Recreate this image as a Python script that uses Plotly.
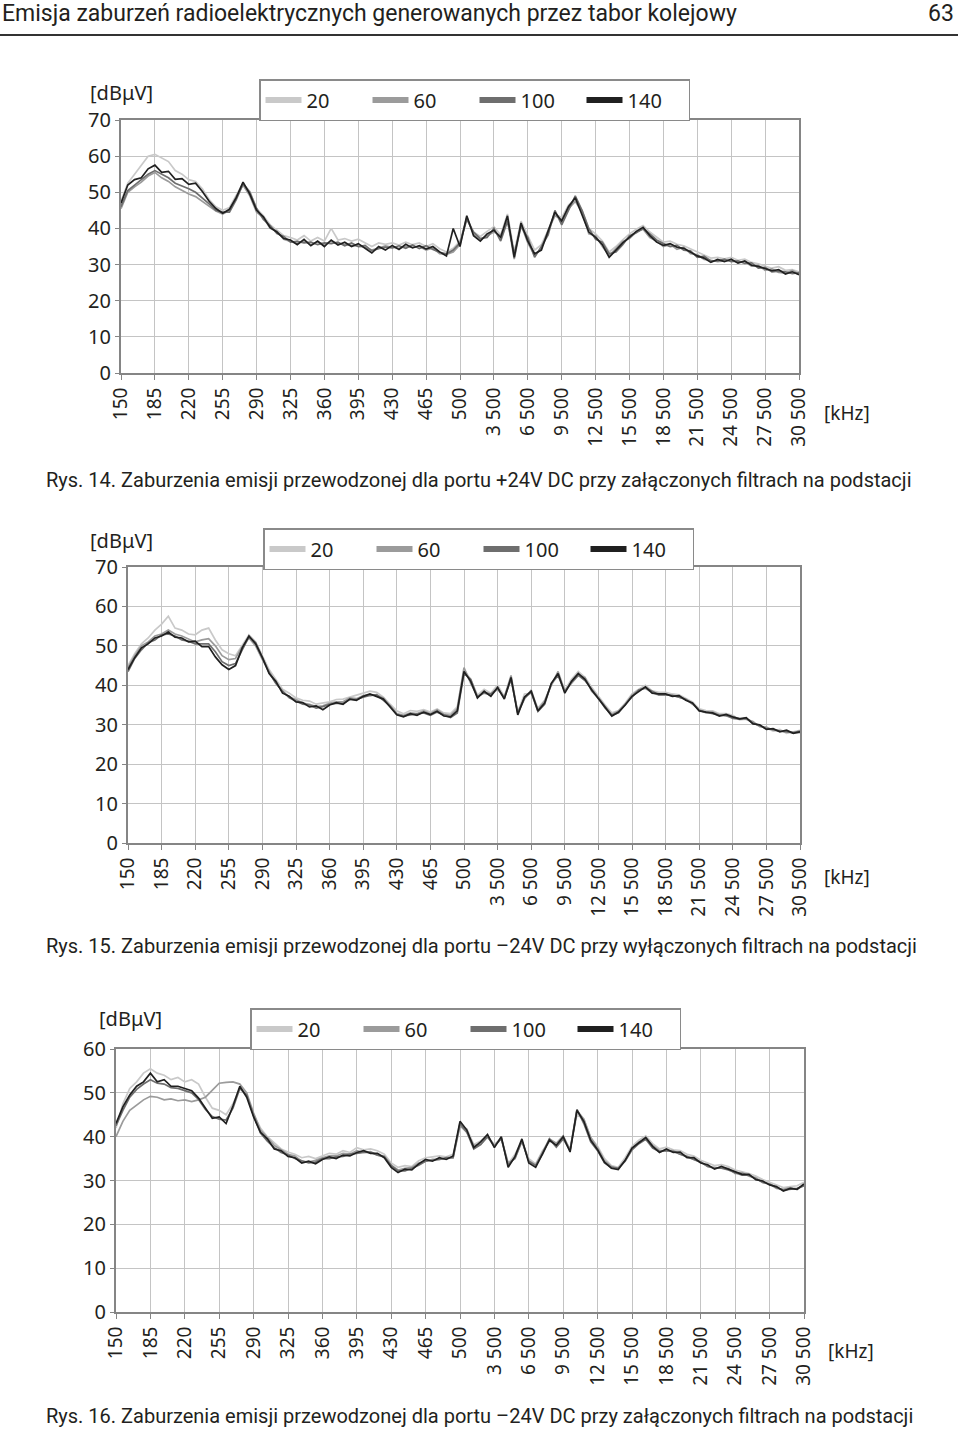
import plotly.graph_objects as go

# ---------------- data ----------------
x_labels = ["150", "185", "220", "255", "290", "325", "360", "395", "430", "465", "500",
            "3 500", "6 500", "9 500", "12 500", "15 500", "18 500", "21 500", "24 500",
            "27 500", "30 500"]
series_names = ["20", "60", "100", "140"]
# sample positions along the category axis (5 samples per label interval)
x_pos = [i / 5 for i in range(101)]

# Rys. 14
r14_s20 = [47.5, 52.5, 55, 57.5, 60, 60.5, 59.5, 58.5, 56, 55,
           53.5, 53, 51, 48, 46, 45, 45.8, 49, 52.5, 50.2,
           45.5, 43.5, 41, 39.5, 38, 37.5, 36.8, 38, 36.5, 37.5,
           36.5, 40, 36.8, 37.2, 36.5, 37, 36, 35, 36, 35.6,
           36, 35.4, 36.2, 35.5, 36, 35, 35.8, 34.4, 33.5, 34.5,
           36.5, 43, 39, 37.8, 39.2, 40.5, 38.2, 44, 33.5, 42,
           38, 34, 35.5, 39.5, 44, 43, 46.5, 48, 45, 40,
           38.5, 36.5, 33.5, 35, 36.8, 38.5, 39.8, 40.8, 39, 37.5,
           36.2, 36.5, 35.6, 35.2, 34.4, 33.5, 32.6, 31.8, 32, 31.6,
           32, 31.2, 31.5, 30.6, 30.2, 29.6, 29, 29.4, 28.4, 28.6,
           28]
r14_s60 = [45.5, 50, 51.5, 52.8, 54.5, 55.5, 54, 53, 51.5, 50.5,
           49.5, 48.8, 47.5, 46, 44.8, 44, 45, 48.8, 52, 49,
           44.5, 43, 40, 39.2, 37, 36.4, 35.8, 36.6, 35.5, 36.2,
           35.6, 36.4, 35.8, 35.6, 35.4, 35.2, 34.8, 34, 34.5, 35.2,
           34.8, 34.5, 35, 34.8, 35, 34, 34.6, 33, 32.8, 33.5,
           35.5, 43, 38.5, 37, 38, 39, 38, 42.5, 31.5, 41,
           36, 32.5, 34.5, 39.5, 43.5, 42.5, 45.5, 47.5, 44.5, 38.5,
           38, 35, 32.5, 34.4, 36.4, 37.2, 39, 39.8, 37.5, 36.5,
           35, 35.6, 34.2, 34.8, 33, 32.8, 31.4, 31.2, 30.8, 31,
           31.2, 30.6, 30.8, 29.6, 29.8, 28.4, 28.8, 27.8, 27.6, 28.4,
           27.5]
r14_s100 = [46, 50.5, 52, 53.5, 55, 56, 55, 54, 52.5, 51.8,
            51, 50, 48.5, 46.8, 45, 44.5, 44.5, 48, 52.3, 50,
            45.5, 42.5, 40.8, 38.6, 37.8, 36.2, 36.4, 36, 36.2, 35.5,
            36, 35.8, 36.2, 35.2, 36, 35, 35.3, 33.8, 34.4, 34.8,
            34.6, 35.2, 34.5, 35.4, 34.4, 35.2, 34.2, 33.4, 33, 34,
            36, 42.5, 39, 37.2, 37.5, 40, 36.5, 42, 33, 40.5,
            37.5, 32, 35, 38.2, 45, 41, 45, 49, 45, 40,
            37, 36.2, 33, 33.5, 35.5, 38, 38.8, 40, 38.5, 36.8,
            35.8, 35, 35.3, 34, 33.8, 32, 32.3, 31, 31, 31.5,
            30.8, 31, 30.3, 30.5, 29, 29.2, 28, 28.2, 28, 27.5,
            27.8]
r14_s140 = [47, 52, 53.5, 54, 56.5, 57.5, 55.5, 55.8, 53.6, 53.8,
            52.2, 52.5, 50.2, 47.5, 45.5, 44.2, 45.3, 48.5, 52.8, 49.5,
            45, 43.2, 40.2, 39, 37.2, 36.8, 35.5, 37, 35.2, 36.5,
            35, 36.8, 35.4, 36.2, 35, 35.8, 34.5, 33.2, 35, 34,
            35.3, 34.2, 35.6, 34.6, 35.2, 34.3, 35, 33.5, 32.4, 40,
            35, 43.5, 38, 36.5, 38.5, 39.5, 37.5, 43.5, 32, 41.5,
            36.5, 33, 34, 39, 44.5, 42, 46, 48.5, 44, 39,
            37.5, 35.5, 32, 34, 36, 37.5, 39.2, 40.3, 38, 36.2,
            35.3, 35.8, 34.8, 34.5, 33.5, 32.4, 31.8, 30.6, 31.4, 30.8,
            31.5, 30.4, 31, 29.8, 29.5, 28.8, 28.3, 28.6, 27.4, 28,
            27.2]

# Rys. 15
r15_s20 = [45, 48, 50.5, 52, 54, 55.5, 57.5, 54.5, 54, 53,
           52.8, 54, 54.5, 51.5, 49, 48, 47.5, 50, 52.8, 51,
           47.5, 44, 41.5, 39, 38, 36.8, 36.2, 36, 35.2, 35.5,
           35.8, 36.4, 36.5, 37, 37.5, 38, 38.5, 38.2, 37, 35.2,
           33.5, 32.8, 33.6, 33.4, 33.8, 33.2, 34, 33, 32.8, 34.5,
           44, 41.5, 37.5, 39, 38, 40, 37.2, 41.5, 33.2, 37.8,
           38, 34.2, 36.2, 40.2, 42.5, 38.8, 41.5, 43.5, 42, 39.5,
           37.2, 35, 33, 33.6, 35.5, 37.8, 39, 40, 38.6, 38.2,
           38.2, 37.8, 37.6, 36.8, 35.8, 34, 33.6, 33.5, 32.8, 32.8,
           32.4, 31.2, 31.4, 30.5, 29.6, 29.2, 28.4, 28.8, 27.8, 28.2,
           28.6]
r15_s60 = [44.5, 47.5, 50, 51, 52.5, 53, 54, 53, 52.5, 51.8,
           51, 51.5, 51.8, 50, 47.5, 46.5, 46.8, 49.8, 52, 50,
           46.5, 43.5, 40.5, 38.5, 37, 36.4, 35.5, 35.2, 34.6, 34.8,
           35.4, 35.8, 35.8, 36.8, 36.6, 37.4, 37.6, 37.5, 36.8, 34.8,
           32.8, 32.4, 33, 32.8, 33.5, 32.8, 33.8, 32.6, 32.4, 34,
           44.5, 40.5, 37.2, 38, 37.5, 39, 37, 42.5, 33, 36.5,
           38.8, 33.8, 36, 40, 43.5, 38.5, 40.5, 42.5, 42, 38.5,
           36.8, 34.2, 32.6, 33.5, 35.2, 37.5, 38.8, 39.2, 38.2, 37.5,
           37.5, 37.5, 37, 36.5, 35.2, 33.8, 33, 33.2, 32.5, 32.2,
           31.8, 31.6, 31.4, 30.8, 29.5, 29.4, 28.6, 28.4, 28.2, 28,
           28]
r15_s100 = [43.5, 46.8, 49, 50.8, 51.5, 52.8, 53, 52.5, 51.5, 51.2,
            50.5, 50.5, 50.5, 48.5, 46, 45, 45.5, 49, 52.3, 50.8,
            47.2, 43.2, 40.5, 38.5, 36.8, 36, 35.2, 35, 34.2, 34.6,
            35.2, 35.4, 35.4, 36.4, 36.4, 37, 37.4, 37.6, 36.2, 34.8,
            32.6, 32.2, 32.5, 32.8, 33, 32.4, 33.2, 32.5, 31.8, 33,
            43, 41.5, 37, 38.2, 37.8, 39.2, 36.8, 41.5, 33, 36.8,
            38.2, 33.4, 35.2, 40.5, 42.5, 38.4, 40.8, 42.5, 41.2, 39,
            36.8, 34.6, 32.4, 33, 35.2, 37, 38.8, 39.4, 38.4, 37.6,
            37.6, 37.4, 37, 36.4, 35.4, 33.6, 33.2, 32.8, 32.4, 32.4,
            31.6, 31.4, 31.6, 30.4, 29.8, 29, 28.8, 28.4, 28.2, 28,
            28.4]
r15_s140 = [44, 47, 49.5, 50.5, 52, 52.5, 53.5, 52.2, 52, 51,
            51.2, 49.8, 49.8, 47.2, 45.2, 44, 45, 49.5, 52.5, 50.5,
            47, 43, 41, 38, 37.2, 35.8, 35.6, 34.5, 34.8, 33.8,
            35, 35.6, 35.2, 36.5, 36.2, 37.2, 37.8, 37.2, 36.5, 34.5,
            32.5, 32, 32.8, 32.4, 33.2, 32.6, 33.4, 32.2, 32, 33.5,
            43.5, 41, 36.8, 38.5, 37.2, 39.5, 36.5, 42, 32.5, 37,
            38.5, 33.5, 35.5, 40.5, 43, 38, 41, 43, 41.5, 38.8,
            36.5, 34.5, 32.2, 33.2, 35, 37.2, 38.5, 39.6, 38, 37.8,
            37.8, 37.2, 37.4, 36.2, 35.5, 33.5, 33.2, 33, 32.2, 32.6,
            32, 31.5, 31.8, 30.2, 30, 28.8, 29, 28.2, 28.6, 27.8,
            28.2]

# Rys. 16
r16_s20 = [42, 47.5, 51, 52.5, 54.5, 55.5, 54.5, 54, 53, 53.5,
           52.5, 53, 52, 49, 46.5, 46, 45, 47.5, 51, 49.5,
           45, 42, 40, 38.5, 37.2, 36.5, 36, 35.2, 35.5, 35,
           35.6, 36.2, 36, 36.8, 36.4, 37.5, 37, 37.2, 36.8, 36,
           34, 33, 33.4, 33.2, 34.5, 35.2, 35.4, 35.6, 35.4, 36,
           42.5, 41.8, 38.2, 39, 40, 38.2, 39.8, 33.8, 36, 39,
           35, 33.8, 36.8, 38.8, 38.5, 39.6, 37.2, 45, 44, 39.8,
           37.8, 35, 33.4, 33, 35.2, 37.8, 39.2, 40.2, 38.4, 37.2,
           37.6, 37, 36.8, 36, 35.6, 34.6, 34, 33.4, 33.6, 33.2,
           32.4, 32, 31.6, 31, 30.2, 29.6, 29, 28.4, 28.6, 28.8,
           29.6]
r16_s60 = [40, 43.5, 46, 47.2, 48.4, 49.2, 49, 48.4, 48.6, 48.2,
           48.4, 48, 48.4, 49, 50.6, 52.2, 52.4, 52.5, 52, 50,
           45.4, 41.5, 39.8, 38, 37, 36, 35.6, 34.4, 34.2, 34.6,
           35.2, 35.6, 35.6, 36.2, 36, 36.8, 36.4, 36.6, 35.8, 35.6,
           33.5, 32.4, 32.8, 33, 34, 34.4, 34.8, 34.8, 35, 35.2,
           42.5, 41, 38, 38.2, 40, 38, 39.5, 34, 35, 39,
           34.5, 33.5, 36.5, 39.5, 38.5, 40.2, 37, 46, 44, 39.8,
           37.4, 34.5, 33.2, 32.8, 34.5, 37.2, 38.8, 39.4, 38, 36.8,
           36.8, 36.8, 36, 35.6, 34.8, 34.2, 33.2, 33, 32.8, 32.8,
           31.6, 31.8, 31, 30.6, 29.5, 29.2, 28.2, 28, 28.4, 28,
           29]
r16_s100 = [42.5, 46, 49, 50.8, 52, 53, 52.2, 52, 51.2, 51,
            50.5, 50, 48.5, 46.2, 44.6, 44, 43.8, 46.5, 51, 49.5,
            44.8, 40.8, 39, 37.5, 36.4, 35.8, 35, 34.5, 34, 34.2,
            35, 35, 35.4, 35.5, 36, 36.2, 36.4, 36.4, 35.8, 35.4,
            33.4, 32.2, 32.2, 32.8, 33.5, 34.4, 34.6, 34.8, 35.2, 35.2,
            43, 41, 37.2, 38.2, 40, 37.8, 39.6, 33.5, 35.2, 39,
            34.4, 33.4, 36, 39.5, 37.6, 39.5, 36.8, 46.2, 43, 38.8,
            36.8, 34, 33, 32.8, 34.4, 37, 38.4, 39.4, 37.4, 36.6,
            36.8, 36.6, 36, 35.4, 34.8, 34.2, 33.2, 32.8, 32.8, 32.4,
            31.8, 31.2, 31.2, 30.4, 29.6, 29.2, 28.4, 27.8, 28, 28.2,
            28.8]
r16_s140 = [43, 46.8, 49.5, 51.5, 52.5, 54.5, 52.5, 53, 51.5, 51.5,
            51, 50.5, 48.8, 46.5, 44.2, 44.5, 43, 47, 51.5, 49,
            44.5, 41, 39.5, 37.2, 36.8, 35.5, 35.2, 34, 34.4, 33.8,
            34.8, 35.4, 35, 35.8, 35.6, 36.4, 36.8, 36.2, 36.2, 35.2,
            33, 31.8, 32.6, 32.4, 33.8, 34.8, 34.4, 35.2, 34.8, 35.6,
            43.5, 41.5, 37.5, 38.8, 40.5, 37.5, 40, 33, 35.5, 39.5,
            34, 33, 36.2, 39.2, 38, 40, 36.5, 46, 43.5, 39.2,
            37, 34.2, 32.8, 32.5, 34.6, 37.4, 38.6, 39.8, 37.8, 36.4,
            37.2, 36.4, 36.5, 35.2, 35.2, 34, 33.6, 32.6, 33.2, 32.6,
            32, 31.4, 31.4, 30.2, 29.9, 29, 28.6, 27.6, 28.2, 28,
            29.2]

captions = [
    "Rys. 14. Zaburzenia emisji przewodzonej dla portu +24V DC przy załączonych filtrach na podstacji",
    "Rys. 15. Zaburzenia emisji przewodzonej dla portu –24V DC przy wyłączonych filtrach na podstacji",
    "Rys. 16. Zaburzenia emisji przewodzonej dla portu –24V DC przy załączonych filtrach na podstacji",
]
header_text = "Emisja zaburzeń radioelektrycznych generowanych przez tabor kolejowy"
page_number = "63"

# ---------------- style ----------------
W, H = 960, 1432
FONT = "Noto Sans"
CAP_FONT = "Roboto"
TXT = "#231f20"
series_colors = ["#c9c9c9", "#9b9b9b", "#6e6e6e", "#202020"]


def px(x):
    return x / W


def py(y):
    return 1 - y / H


panels = [
    dict(data=[r14_s20, r14_s60, r14_s100, r14_s140], x0=121, x1=799, y0=120, y1=373, ymax=70,
         leg=(259, 79), unit=(88, 92), khz=(822, 413), cap=480),
    dict(data=[r15_s20, r15_s60, r15_s100, r15_s140], x0=128, x1=800, y0=567, y1=843, ymax=70,
         leg=(263, 528), unit=(88, 540), khz=(822, 877), cap=946),
    dict(data=[r16_s20, r16_s60, r16_s100, r16_s140], x0=116, x1=804, y0=1049, y1=1312, ymax=60,
         leg=(250, 1008), unit=(97, 1018), khz=(826, 1351), cap=1416),
]

fig = go.Figure()
annotations = []
layout_axes = {}

for k, p in enumerate(panels):
    n = "" if k == 0 else str(k + 1)
    xa, ya = "x" + n, "y" + n
    legname = "legend" + n
    for s, (name, vals) in enumerate(zip(series_names, p["data"])):
        fig.add_trace(go.Scatter(x=x_pos, y=vals, mode="lines", xaxis=xa, yaxis=ya,
                                 line=dict(color=series_colors[s], width=1.7),
                                 showlegend=False, hoverinfo="skip"))
    for s, name in enumerate(series_names):
        fig.add_trace(go.Scatter(x=[None], y=[None], mode="lines", xaxis=xa, yaxis=ya,
                                 name=name, legend=legname,
                                 line=dict(color=series_colors[s], width=6)))

    layout_axes["xaxis" + n] = dict(
        domain=[px(p["x0"]), px(p["x1"])], anchor=ya, range=[0, 20], automargin=False,
        tickmode="array", tickvals=list(range(21)), ticktext=x_labels, tickangle=-90,
        showgrid=True, gridcolor="#c4c4c4", gridwidth=1.3,
        showline=True, linecolor="#858585", linewidth=2, mirror=True,
        ticks="outside", ticklen=5, tickcolor="#858585",
        tickfont=dict(family=FONT, size=19, color=TXT), zeroline=False,
    )
    layout_axes["yaxis" + n] = dict(
        domain=[py(p["y1"]), py(p["y0"])], anchor=xa, range=[0, p["ymax"]], automargin=False,
        tickmode="array", tickvals=list(range(0, p["ymax"] + 1, 10)),
        showgrid=True, gridcolor="#c4c4c4", gridwidth=1.3,
        showline=True, linecolor="#858585", linewidth=2, mirror=True,
        ticks="outside", ticklen=4, tickcolor="#858585",
        tickfont=dict(family=FONT, size=20, color=TXT), zeroline=False,
    )
    layout_axes[legname] = dict(
        x=px(p["leg"][0]), y=py(p["leg"][1]), xanchor="left", yanchor="top",
        orientation="h", bordercolor="#8a8a8a", borderwidth=1.5, bgcolor="white",
        font=dict(family=FONT, size=20, color=TXT), entrywidth=56, itemwidth=36,
    )
    annotations.append(dict(text="[dBμV]", x=px(p["unit"][0]), y=py(p["unit"][1]),
                            xref="paper", yref="paper", xanchor="left", yanchor="middle",
                            showarrow=False, font=dict(family=FONT, size=20, color=TXT)))
    annotations.append(dict(text="[kHz]", x=px(p["khz"][0]), y=py(p["khz"][1]),
                            xref="paper", yref="paper", xanchor="left", yanchor="middle",
                            showarrow=False, font=dict(family=FONT, size=19, color=TXT)))
    annotations.append(dict(text=captions[k], x=px(44), y=py(p["cap"]),
                            xref="paper", yref="paper", xanchor="left", yanchor="middle",
                            showarrow=False, font=dict(family=CAP_FONT, size=20, color=TXT)))

annotations.append(dict(text=header_text, x=px(0), y=py(14), xref="paper", yref="paper",
                        xanchor="left", yanchor="middle", showarrow=False,
                        font=dict(family=CAP_FONT, size=23, color=TXT)))
annotations.append(dict(text=page_number, x=px(956), y=py(14), xref="paper", yref="paper",
                        xanchor="right", yanchor="middle", showarrow=False,
                        font=dict(family=CAP_FONT, size=23, color=TXT)))

fig.update_layout(
    width=W, height=H, margin=dict(l=0, r=0, t=0, b=0, pad=0, autoexpand=False),
    paper_bgcolor="white", plot_bgcolor="white",
    annotations=annotations,
    shapes=[dict(type="line", xref="paper", yref="paper", x0=0, x1=px(958), y0=py(35), y1=py(35),
                 line=dict(color="#333333", width=2))],
    **layout_axes,
)

fig.write_html("out.html", config={"displayModeBar": False},
               post_script="document.body.style.margin='0';")
